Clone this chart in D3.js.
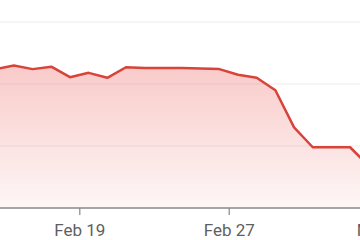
<!DOCTYPE html>
<html>
<head>
<meta charset="utf-8">
<script src="https://cdn.jsdelivr.net/npm/d3@7"></script>
<style>
  body { margin: 0; background: #fff; }
  svg { display: block; font-family: Roboto, "Noto Sans", sans-serif; }
</style>
</head>
<body>
<div id="graph"></div>
<script>
// daily readings, taken at noon
const dates = ["2021-02-14", "2021-02-15", "2021-02-16", "2021-02-17", "2021-02-18", "2021-02-19",
  "2021-02-20", "2021-02-21", "2021-02-22", "2021-02-23", "2021-02-24", "2021-02-25", "2021-02-26",
  "2021-02-27", "2021-02-28", "2021-03-01", "2021-03-02", "2021-03-03", "2021-03-04", "2021-03-05", "2021-03-06"];
const values = [224, 230, 224, 228, 211, 218, 210, 227, 226, 226, 226, 225, 224, 215, 210, 190, 130, 98, 98, 98, 68];
const gridValues = [100, 200, 300];
const tickDates = ["2021-02-19", "2021-02-27", "2021-03-07"];

const width = 360, height = 240;
const baseY = 208, topY = 22;

const parse = d3.timeParse("%Y-%m-%d");
const data = dates.map((d, i) => [d3.timeHour.offset(parse(d), 12), values[i]]);

const x = d3.scaleTime()
  .domain([parse("2021-02-19"), parse("2021-02-27")])
  .range([79.3, 228.7]);
const y = d3.scaleLinear().domain([0, 300]).range([baseY, topY]);

const svg = d3.select("#graph").append("svg").attr("width", width).attr("height", height);

const defs = svg.append("defs");
const grad = defs.append("linearGradient").attr("id", "fillGrad")
  .attr("x1", 0).attr("y1", 0).attr("x2", 0).attr("y2", 1);
grad.append("stop").attr("offset", "0%").attr("stop-color", "#e8504a").attr("stop-opacity", 0.3);
grad.append("stop").attr("offset", "100%").attr("stop-color", "#e8504a").attr("stop-opacity", 0.05);
defs.append("clipPath").attr("id", "clip").append("rect")
  .attr("x", 0).attr("y", 0).attr("width", width).attr("height", baseY);

// gridlines
svg.append("g").selectAll("line").data(gridValues).enter().append("line")
  .attr("x1", 0).attr("x2", width)
  .attr("y1", d => y(d)).attr("y2", d => y(d))
  .attr("stroke", "#ececec").attr("stroke-width", 1);

const plot = svg.append("g").attr("clip-path", "url(#clip)");

const area = d3.area().x(d => x(d[0])).y0(baseY).y1(d => y(d[1]));
const line = d3.line().x(d => x(d[0])).y(d => y(d[1]));

plot.append("path").datum(data).attr("d", area).attr("fill", "url(#fillGrad)");
plot.append("path").datum(data).attr("d", line)
  .attr("fill", "none").attr("stroke", "#d8433a").attr("stroke-width", 2.5)
  .attr("stroke-linejoin", "round");

const xAxis = d3.axisBottom(x)
  .tickValues(tickDates.map(parse))
  .tickFormat(d3.timeFormat("%b %-d"))
  .tickSizeInner(7).tickSizeOuter(0).tickPadding(9);

const ax = svg.append("g").attr("transform", "translate(0," + baseY + ")").call(xAxis);
ax.select(".domain").remove();
ax.insert("line", ":first-child").attr("x1", 0).attr("x2", width).attr("y1", 0).attr("y2", 0)
  .attr("stroke", "#888").attr("stroke-width", 1.5);
ax.selectAll(".tick line").attr("stroke", "#888").attr("stroke-width", 1.2);
ax.selectAll(".tick text").attr("fill", "#5f5f5f").attr("font-size", 17)
  .attr("font-family", "Roboto, sans-serif");
</script>
</body>
</html>
